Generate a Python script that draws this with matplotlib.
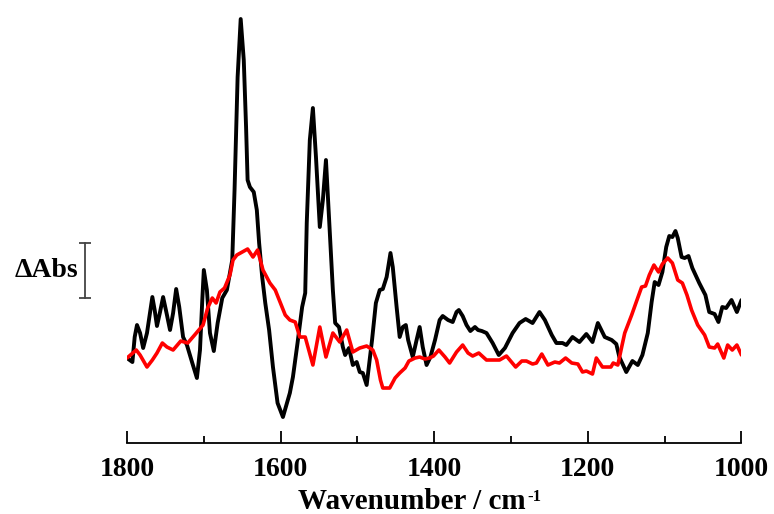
import matplotlib
matplotlib.use("Agg")
import matplotlib.pyplot as plt
import matplotlib.transforms as mtransforms

# Difference spectra (wavenumber in cm-1, delta absorbance in arbitrary units)
wn_black = [1800, 1793, 1790, 1787, 1783, 1779, 1774, 1767, 1764, 1761, 1757, 1753,
            1748, 1744, 1740, 1736, 1732, 1727, 1722, 1715, 1709, 1705, 1702, 1700,
            1696, 1692, 1687, 1682, 1676, 1670, 1663, 1660, 1656, 1652, 1648, 1645,
            1643, 1640, 1635, 1631, 1628, 1624, 1620, 1615, 1610, 1604, 1597, 1588,
            1584, 1578, 1572, 1568, 1566, 1562, 1558, 1554, 1549, 1545, 1541, 1537,
            1532, 1529, 1524, 1519, 1516, 1511, 1506, 1501, 1497, 1493, 1488, 1481,
            1476, 1471, 1467, 1462, 1457, 1454, 1449, 1445, 1441, 1437, 1434, 1428,
            1423, 1419, 1415, 1410, 1405, 1399, 1393, 1389, 1382, 1376, 1371, 1368,
            1363, 1358, 1353, 1347, 1343, 1338, 1332, 1324, 1316, 1308, 1298, 1289,
            1281, 1272, 1263, 1256, 1247, 1241, 1233, 1228, 1220, 1211, 1202, 1194,
            1187, 1178, 1169, 1163, 1159, 1150, 1142, 1135, 1129, 1122, 1117, 1113,
            1108, 1103, 1098, 1094, 1090, 1086, 1083, 1078, 1074, 1069, 1064, 1055,
            1047, 1042, 1035, 1030, 1025, 1020, 1013, 1006, 1000]
abs_black = [0.00, -0.08, 0.42, 0.66, 0.50, 0.20, 0.50, 1.22, 0.96, 0.64, 0.92, 1.22,
             0.86, 0.56, 0.90, 1.38, 1.02, 0.42, 0.26, -0.10, -0.40, 0.16, 1.16, 1.76,
             1.36, 0.50, 0.14, 0.70, 1.20, 1.36, 1.96, 3.36, 5.62, 6.78, 5.96, 4.62,
             3.56, 3.42, 3.32, 2.96, 2.30, 1.62, 1.10, 0.56, -0.18, -0.90, -1.18, -0.70,
             -0.38, 0.30, 1.02, 1.30, 2.70, 4.36, 5.00, 4.02, 2.62, 3.16, 3.96, 2.82,
             1.36, 0.70, 0.62, 0.22, 0.06, 0.20, -0.14, -0.08, -0.28, -0.30, -0.54, 0.36,
             1.10, 1.36, 1.38, 1.62, 2.10, 1.82, 1.02, 0.42, 0.62, 0.66, 0.36, 0.02,
             0.36, 0.62, 0.22, -0.14, 0.02, 0.36, 0.76, 0.84, 0.76, 0.72, 0.92, 0.96,
             0.84, 0.66, 0.54, 0.62, 0.56, 0.54, 0.50, 0.30, 0.06, 0.20, 0.50, 0.70,
             0.78, 0.70, 0.92, 0.76, 0.46, 0.30, 0.30, 0.26, 0.42, 0.32, 0.48, 0.32,
             0.70, 0.42, 0.36, 0.28, 0.02, -0.28, -0.06, -0.14, 0.06, 0.50, 1.12, 1.52,
             1.46, 1.72, 2.22, 2.44, 2.42, 2.54, 2.40, 2.02, 2.00, 2.04, 1.80, 1.50,
             1.26, 0.92, 0.88, 0.72, 1.02, 1.00, 1.16, 0.92, 1.16]

wn_red = [1800, 1788, 1783, 1774, 1767, 1761, 1754, 1748, 1740, 1730, 1721, 1712,
          1701, 1695, 1689, 1684, 1679, 1673, 1666, 1662, 1657, 1643, 1636, 1630,
          1623, 1614, 1607, 1594, 1588, 1581, 1575, 1568, 1558, 1549, 1541, 1532,
          1523, 1514, 1506, 1497, 1488, 1480, 1475, 1470, 1467, 1458, 1451, 1445,
          1438, 1433, 1425, 1419, 1412, 1406, 1401, 1394, 1386, 1380, 1371, 1363,
          1356, 1350, 1342, 1332, 1315, 1306, 1294, 1286, 1280, 1272, 1267, 1260,
          1252, 1243, 1237, 1229, 1221, 1213, 1207, 1202, 1194, 1189, 1181, 1170,
          1167, 1161, 1156, 1152, 1143, 1137, 1130, 1125, 1120, 1114, 1108, 1103,
          1096, 1090, 1083, 1077, 1071, 1065, 1057, 1048, 1042, 1035, 1031, 1023,
          1018, 1012, 1006, 1000]
abs_red = [0.00, 0.16, 0.06, -0.18, -0.04, 0.10, 0.30, 0.22, 0.16, 0.34, 0.30, 0.46,
           0.66, 1.00, 1.20, 1.10, 1.32, 1.40, 1.66, 1.96, 2.06, 2.18, 2.02, 2.16,
           1.76, 1.50, 1.36, 0.86, 0.76, 0.72, 0.42, 0.42, -0.14, 0.62, 0.02, 0.50,
           0.32, 0.56, 0.12, 0.20, 0.24, 0.16, -0.04, -0.44, -0.60, -0.60, -0.40, -0.30,
           -0.20, -0.06, 0.00, 0.02, -0.02, 0.00, 0.04, 0.16, 0.02, -0.10, 0.12, 0.26,
           0.10, 0.04, 0.10, -0.04, -0.04, 0.04, -0.18, -0.06, -0.06, -0.12, -0.10, 0.08,
           -0.14, -0.08, -0.10, 0.00, -0.10, -0.12, -0.28, -0.26, -0.32, 0.00, -0.18, -0.18,
           -0.10, -0.14, 0.22, 0.50, 0.86, 1.12, 1.42, 1.44, 1.66, 1.86, 1.72, 1.88,
           2.00, 1.90, 1.56, 1.50, 1.26, 0.96, 0.66, 0.46, 0.22, 0.20, 0.28, 0.00,
           0.26, 0.16, 0.26, 0.06]

x_ticks = [1800, 1600, 1400, 1200, 1000]
x_minor = [1700, 1500, 1300, 1100]
scale_bar = (1.20, 2.30)  # delta-absorbance span of the scale bar

plt.rcParams["font.family"] = ["Liberation Serif", "DejaVu Serif"]
plt.rcParams["font.weight"] = "bold"

fig = plt.figure(figsize=(7.74, 5.14), dpi=100)
ax = fig.add_axes([0.1641, 0.1381, 0.7939, 0.8424])

ax.plot(wn_black, abs_black, color="black", lw=2.8, solid_joinstyle="round",
        solid_capstyle="round", zorder=2)
ax.plot(wn_red, abs_red, color="#ff0000", lw=2.6, solid_joinstyle="round",
        solid_capstyle="round", zorder=3)

ax.set_xlim(1800, 1000)
ax.set_ylim(-1.70, 6.96)

for side in ("top", "right", "left"):
    ax.spines[side].set_visible(False)
ax.spines["bottom"].set_linewidth(1.3)
ax.set_yticks([])
ax.set_xticks(x_ticks)
ax.set_xticks(x_minor, minor=True)
ax.tick_params(axis="x", which="major", direction="in", length=9, width=1.3,
               labelsize=20, pad=10)
ax.tick_params(axis="x", which="minor", direction="in", length=5, width=1.3)
for lbl in ax.get_xticklabels():
    lbl.set_fontweight("bold")

# Axis title with a small raised "-1"
ax.text(0.278, -0.152, "Wavenumber / cm", transform=ax.transAxes, ha="left",
        va="baseline", fontsize=21, fontweight="bold")
ax.text(0.652, -0.135, "-1", transform=ax.transAxes, ha="left",
        va="baseline", fontsize=12, fontweight="bold")

# Scale bar for delta absorbance, to the left of the plotting area
trans = mtransforms.blended_transform_factory(ax.transAxes, ax.transData)
bar_x = -0.068
ax.plot([bar_x, bar_x], list(scale_bar), color="#444444", lw=1.3,
        transform=trans, clip_on=False)
ax.plot([bar_x, bar_x], list(scale_bar), color="#444444", lw=0, marker="_",
        markersize=9, markeredgewidth=1.3, transform=trans, clip_on=False)
ax.text(bar_x - 0.012, sum(scale_bar) / 2, "ΔAbs", transform=trans,
        ha="right", va="center", fontsize=20, fontweight="bold")

fig.savefig("out.png", dpi=100)
